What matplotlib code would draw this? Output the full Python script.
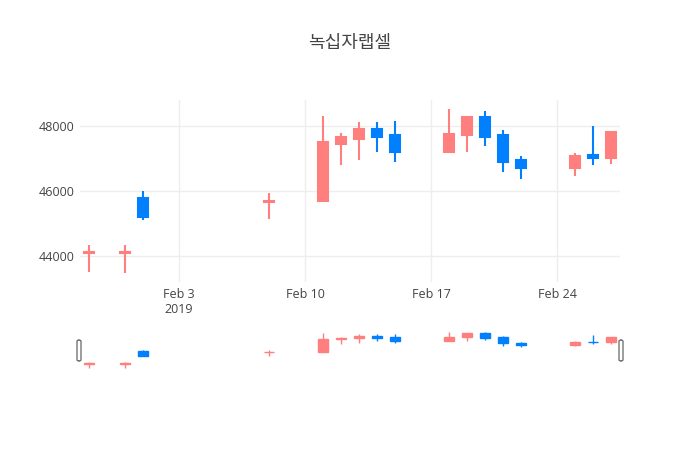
"""Candlestick chart of 녹십자랩셀 daily prices with a range-slider preview."""
import matplotlib

matplotlib.use("Agg")
import matplotlib.dates as mdates
import matplotlib.pyplot as plt
import pandas as pd
from matplotlib.patches import FancyBboxPatch, Rectangle

TITLE = "녹십자랩셀"

DATES = [
    "2019-01-29", "2019-01-31", "2019-02-01", "2019-02-08", "2019-02-11",
    "2019-02-12", "2019-02-13", "2019-02-14", "2019-02-15", "2019-02-18",
    "2019-02-19", "2019-02-20", "2019-02-21", "2019-02-22", "2019-02-25",
    "2019-02-26", "2019-02-27",
]
OPENS = [44100, 44100, 45800, 45650, 45700, 47450, 47600, 47900, 47700, 47200,
         47700, 48250, 47700, 46950, 46700, 47100, 47000]
HIGHS = [44350, 44350, 46000, 45950, 48300, 47780, 48100, 48100, 48150, 48500,
         48270, 48450, 47850, 47060, 47170, 48000, 47800]
LOWS = [43520, 43500, 45100, 45150, 45700, 46780, 46950, 47200, 46880, 47200,
        47200, 47370, 46580, 46380, 46470, 46780, 46830]
CLOSES = [44150, 44150, 45200, 45700, 47500, 47650, 47900, 47650, 47200, 47750,
          48250, 47650, 46900, 46700, 47080, 47000, 47800]

X_TICKS = ["2019-02-03", "2019-02-10", "2019-02-17", "2019-02-24"]
X_TICK_LABELS = ["Feb 3\n2019", "Feb 10", "Feb 17", "Feb 24"]
Y_TICKS = [44000, 46000, 48000]

UP_COLOR = "#FF7F7F"
DOWN_COLOR = "#0080FF"
TEXT_COLOR = "#444444"
GRID_COLOR = "#EEEEEE"


def draw_candles(ax, lw):
    xs = mdates.date2num(pd.to_datetime(DATES))
    width = 0.56
    for x, o, h, l, c in zip(xs, OPENS, HIGHS, LOWS, CLOSES):
        color = UP_COLOR if c >= o else DOWN_COLOR
        ax.vlines(x, l, h, color=color, lw=lw, zorder=2)
        ax.add_patch(Rectangle((x - width / 2, min(o, c)), width, abs(c - o),
                               facecolor=color, edgecolor=color, lw=lw, zorder=3))
    return xs


def set_limits(ax, xs):
    lo, hi = min(LOWS), max(HIGHS)
    pad = (hi - lo) * 0.056
    ax.set_xlim(xs.min() - 0.5, xs.max() + 0.5)
    ax.set_ylim(lo - pad, hi + pad)


fig = plt.figure(figsize=(7, 4.5), dpi=100)
fig.text(0.5, 1 - 43 / 450, TITLE, ha="center", va="center", fontsize=13,
         color=TEXT_COLOR, family=["Noto Sans CJK KR", "DejaVu Sans"])

ax = fig.add_axes([80 / 700, 1 - 282 / 450, 540 / 700, 182 / 450])
xs = draw_candles(ax, 1.5)
set_limits(ax, xs)
ax.set_xticks(mdates.date2num(pd.to_datetime(X_TICKS)))
ax.set_xticklabels(X_TICK_LABELS)
ax.set_yticks(Y_TICKS)
ax.set_yticklabels([str(v) for v in Y_TICKS])
ax.tick_params(length=0, labelsize=9, labelcolor=TEXT_COLOR, pad=4)
for lab in ax.get_xticklabels() + ax.get_yticklabels():
    lab.set_family("Open Sans")
ax.grid(True, color=GRID_COLOR, lw=1)
ax.set_axisbelow(True)
for spine in ax.spines.values():
    spine.set_visible(False)

# range slider preview
sl = fig.add_axes([80 / 700, 1 - 370 / 450, 540 / 700, 40.5 / 450])
draw_candles(sl, 1.0)
set_limits(sl, xs)
sl.set_xticks([])
sl.set_yticks([])
for spine in sl.spines.values():
    spine.set_visible(False)

for hx in (79, 621):
    fig.patches.append(FancyBboxPatch(
        ((hx - 2) / 700, 1 - 361 / 450), 4 / 700, 21 / 450,
        boxstyle="round,pad=0,rounding_size=0.003", transform=fig.transFigure,
        facecolor="white", edgecolor="#666666", lw=0.9))

fig.savefig("out.png", dpi=100)
